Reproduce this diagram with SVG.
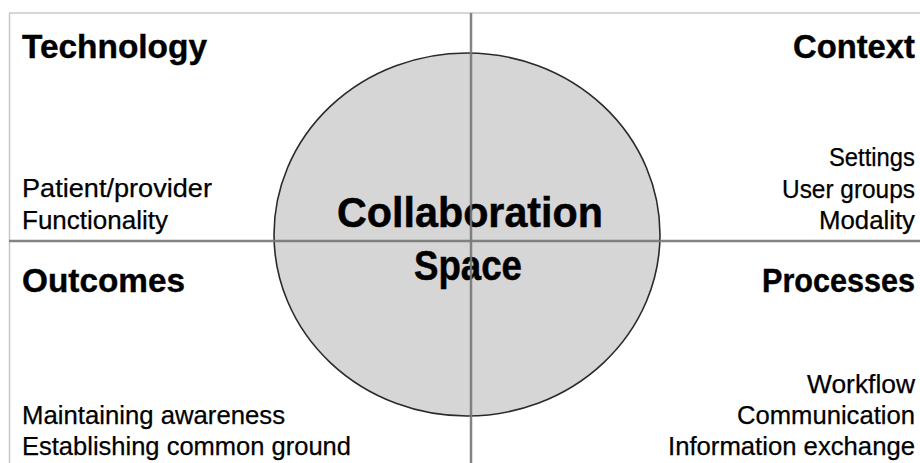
<svg xmlns="http://www.w3.org/2000/svg" width="920" height="463" viewBox="0 0 920 463">
  <style>
    .head { font-family: "Liberation Sans", Arial, sans-serif; font-weight: bold; font-size: 33px; fill: #000; stroke: #000; stroke-width: 0.4; }
    .item { font-family: "Liberation Sans", Arial, sans-serif; font-size: 26px; fill: #000; stroke: #000; stroke-width: 0.25; }
    .center { font-family: "Liberation Sans", Arial, sans-serif; font-weight: bold; font-size: 43px; fill: #000; stroke: #000; stroke-width: 0.5; text-anchor: middle; }
    .r { text-anchor: end; }
    .border { stroke: #c8c8c8; stroke-width: 1.5; fill: none; }
    .axis { stroke: #777777; stroke-width: 2.5; fill: none; opacity: 0.9; }
  </style>
  <rect x="0" y="0" width="920" height="463" fill="#ffffff"/>

  <g id="collaboration-space">
    <ellipse cx="467" cy="234.5" rx="193" ry="181.5" fill="#d6d6d6" stroke="#2a2a2a" stroke-width="1.6"/>
    <text class="center" x="470" y="227" textLength="266" lengthAdjust="spacingAndGlyphs">Collaboration</text>
    <text class="center" x="468" y="280" textLength="108" lengthAdjust="spacingAndGlyphs">Space</text>
  </g>

  <g id="technology">
    <text class="head" x="22" y="58" textLength="185" lengthAdjust="spacingAndGlyphs">Technology</text>
    <text class="item" x="22" y="197" textLength="190" lengthAdjust="spacingAndGlyphs">Patient/provider</text>
    <text class="item" x="22" y="229" textLength="146" lengthAdjust="spacingAndGlyphs">Functionality</text>
  </g>

  <g id="context">
    <text class="head r" x="915" y="58" textLength="122" lengthAdjust="spacingAndGlyphs">Context</text>
    <text class="item r" x="915" y="166" textLength="86" lengthAdjust="spacingAndGlyphs">Settings</text>
    <text class="item r" x="915" y="198" textLength="133" lengthAdjust="spacingAndGlyphs">User groups</text>
    <text class="item r" x="915" y="229" textLength="96" lengthAdjust="spacingAndGlyphs">Modality</text>
  </g>

  <g id="outcomes">
    <text class="head" x="22" y="292" textLength="163" lengthAdjust="spacingAndGlyphs">Outcomes</text>
    <text class="item" x="22" y="424" textLength="263" lengthAdjust="spacingAndGlyphs">Maintaining awareness</text>
    <text class="item" x="22" y="455" textLength="329" lengthAdjust="spacingAndGlyphs">Establishing common ground</text>
  </g>

  <g id="processes">
    <text class="head r" x="915" y="292" textLength="153" lengthAdjust="spacingAndGlyphs">Processes</text>
    <text class="item r" x="915" y="393" textLength="108" lengthAdjust="spacingAndGlyphs">Workflow</text>
    <text class="item r" x="915" y="424" textLength="178" lengthAdjust="spacingAndGlyphs">Communication</text>
    <text class="item r" x="915" y="455" textLength="247" lengthAdjust="spacingAndGlyphs">Information exchange</text>
  </g>

  <g id="connectors">
    <line class="border" x1="9" y1="13" x2="920" y2="13"/>
    <line class="border" x1="9.5" y1="13" x2="9.5" y2="463"/>
    <line class="axis" x1="9" y1="241" x2="920" y2="241"/>
    <line class="axis" x1="471" y1="13" x2="471" y2="463"/>
  </g>
</svg>
